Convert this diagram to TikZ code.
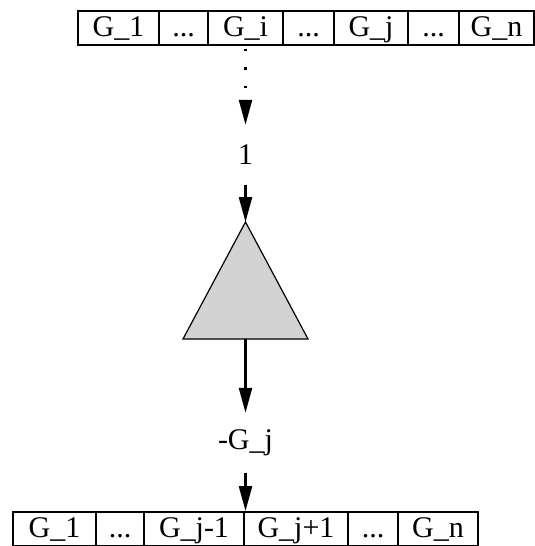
\documentclass[tikz,border=0pt]{standalone}
\usepackage{fontspec}
\setmainfont{Liberation Serif}
\usetikzlibrary{arrows.meta}
\definecolor{triFill}{RGB}{211,211,211}

\begin{document}
\begin{tikzpicture}[x=1pt, y=-1pt,
	cell/.style={draw, line width=2pt, minimum height=34pt, inner sep=0pt,
		text height=22pt, text depth=6pt, font=\fontsize{30}{34}\selectfont},
	lab/.style={minimum height=60pt, inner sep=0pt, font=\fontsize{30}{34}\selectfont},
	>={Triangle[length=25pt, width=13pt]}]
			\useasboundingbox (0,0) rectangle (535,546);

			% input
			\node[cell, minimum width=81pt] (t1) at (118.5, 28) {G\_1};
			\node[cell, minimum width=49pt] (t2) at (183.5, 28) {...};
			\node[cell, minimum width=75pt] (t3) at (245.5, 28) {G\_i};
			\node[cell, minimum width=51pt] (t4) at (308.5, 28) {...};
			\node[cell, minimum width=74pt] (t5) at (371, 28) {G\_j};
			\node[cell, minimum width=51pt] (t6) at (433.5, 28) {...};
			\node[cell, minimum width=75pt] (t7) at (496.5, 28) {G\_n};

			\node[lab] (one) at (245.5, 155) {1};

			\coordinate (apex) at (245.5, 222);
			\coordinate (bl) at (183, 339);
			\coordinate (br) at (308, 339);
			\coordinate (base) at (245.5, 339);

			\node[lab] (gj) at (245.5, 443) {-G\_j};

			% output
			\node[cell, minimum width=83pt] (b1) at (54.5, 529) {G\_1};
			\node[cell, minimum width=48pt] (b2) at (120, 529) {...};
			\node[cell, minimum width=100pt] (b3) at (194, 529) {G\_j-1};
			\node[cell, minimum width=104pt] (b4) at (296, 529) {G\_j+1};
			\node[cell, minimum width=50pt] (b5) at (373, 529) {...};
			\node[cell, minimum width=80pt] (b6) at (438, 529) {G\_n};

			\draw[fill=triFill, line width=1.2pt] (apex) -- (bl) -- (br) -- cycle;

			\draw[->, line width=2.5pt, dash pattern=on 2.5pt off 16pt, dash phase=16pt] (t3.south) -- (one.north);
			\draw[->, line width=2.5pt] (one.south) -- (apex);
			\draw[->, line width=2.5pt] (base) -- (gj.north);
			\draw[->, line width=2.5pt] (gj.south) -- (gj.south |- b3.north);
		\end{tikzpicture}
\end{document}
